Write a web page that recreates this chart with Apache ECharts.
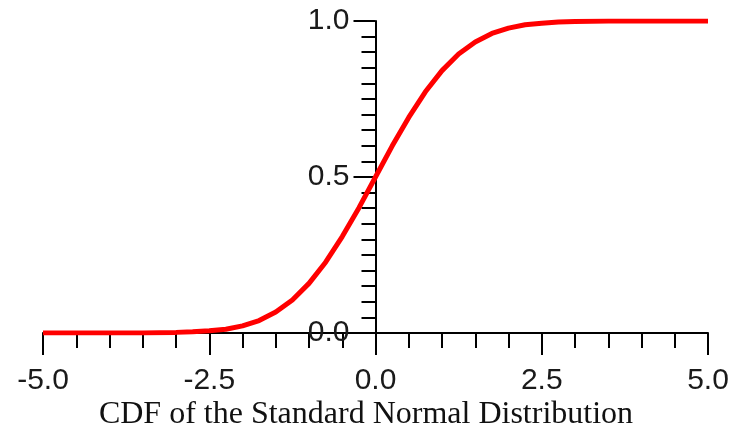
<!DOCTYPE html>
<html>
<head>
<meta charset="utf-8">
<script src="https://cdn.jsdelivr.net/npm/echarts@6/dist/echarts.min.js"></script>
<style>
html,body{margin:0;padding:0;background:#fff;}
#chart{width:732px;height:429px;}
</style>
</head>
<body>
<div id="chart"></div>
<script>
// Values
var xValues = [-5, -4.75, -4.5, -4.25, -4, -3.75, -3.5, -3.25, -3, -2.75, -2.5, -2.25, -2, -1.75, -1.5, -1.25, -1, -0.75, -0.5, -0.25, 0, 0.25, 0.5, 0.75, 1, 1.25, 1.5, 1.75, 2, 2.25, 2.5, 2.75, 3, 3.25, 3.5, 3.75, 4, 4.25, 4.5, 4.75, 5];
var cdfValues = [0, 0, 0, 0, 0, 0, 0, 0.001, 0.002, 0.004, 0.007, 0.012, 0.023, 0.04, 0.067, 0.106, 0.159, 0.227, 0.309, 0.401, 0.5, 0.599, 0.691, 0.773, 0.841, 0.894, 0.933, 0.96, 0.977, 0.988, 0.993, 0.997, 0.998, 0.999, 1, 1, 1, 1, 1, 1, 1];
var xTickLabels = ['-5.0', '-2.5', '0.0', '2.5', '5.0'];
var yTickLabels = ['0.0', '0.5', '1.0'];
var chartTitle = 'CDF of the Standard Normal Distribution';

var points = xValues.map(function (x, i) { return [x, cdfValues[i]]; });

var gridLeft = 43, gridRight = 24;
var plotWidth = 732 - gridLeft - gridRight;
// y axis sits at x = 0, i.e. the middle of the -5..5 range
var yAxisOffset = -plotWidth * (0 - (-5)) / (5 - (-5));

var chart = echarts.init(document.getElementById('chart'));
chart.setOption({
  animation: false,
  backgroundColor: '#ffffff',
  grid: { left: gridLeft, right: gridRight, top: 21, bottom: 96, containLabel: false, outerBoundsMode: 'none' },
  xAxis: {
    type: 'value', min: -5, max: 5, interval: 2.5,
    axisLine: { show: true, onZero: false, lineStyle: { color: '#000', width: 2 } },
    axisTick: { show: true, length: 22, lineStyle: { color: '#000', width: 2 } },
    minorTick: { show: true, splitNumber: 5, length: 15, lineStyle: { color: '#000', width: 2 } },
    splitLine: { show: false },
    axisLabel: {
      show: true, margin: 33, fontSize: 30, fontFamily: 'Liberation Sans', color: '#1a1a1a',
      showMinLabel: true, showMaxLabel: true, hideOverlap: false,
      formatter: function (v) { return xTickLabels[Math.round((v + 5) / 2.5)]; }
    }
  },
  yAxis: {
    type: 'value', min: 0, max: 1, interval: 0.5, position: 'left', offset: yAxisOffset,
    axisLine: { show: true, onZero: false, lineStyle: { color: '#000', width: 2 } },
    axisTick: { show: true, length: 22, lineStyle: { color: '#000', width: 2 } },
    minorTick: { show: true, splitNumber: 10, length: 14, lineStyle: { color: '#000', width: 2 } },
    splitLine: { show: false },
    axisLabel: {
      show: true, margin: 26, fontSize: 30, fontFamily: 'Liberation Sans', color: '#1a1a1a',
      showMinLabel: true, showMaxLabel: true, hideOverlap: false,
      formatter: function (v) { return yTickLabels[Math.round(v * 2)]; }
    }
  },
  graphic: [{
    type: 'text', left: 'center', top: 399,
    style: { text: chartTitle, font: '32px "Liberation Serif"', fill: '#111' }
  }],
  series: [{
    type: 'line', data: points, showSymbol: false, smooth: false,
    lineStyle: { color: '#ff0000', width: 5 }, z: 5
  }]
});
</script>
</body>
</html>
